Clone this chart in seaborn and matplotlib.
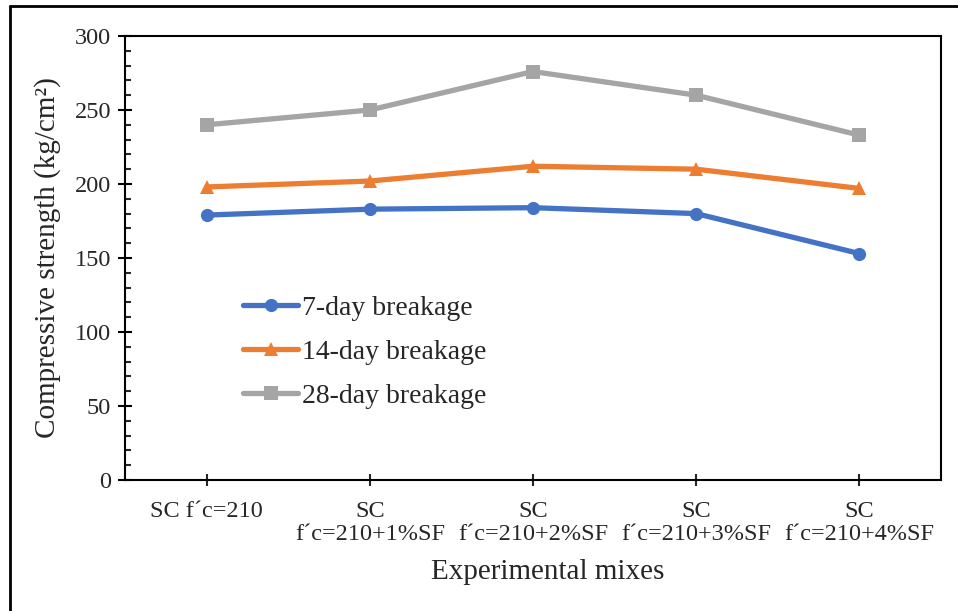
import matplotlib
matplotlib.use("Agg")
import matplotlib.pyplot as plt
from matplotlib.lines import Line2D
from matplotlib.ticker import MultipleLocator
import pandas as pd
import seaborn as sns

# Mix designs (x categories) and compressive strength per curing age
mixes = [
    "SC f\u00b4c=210",
    "SC\nf\u00b4c=210+1%SF",
    "SC\nf\u00b4c=210+2%SF",
    "SC\nf\u00b4c=210+3%SF",
    "SC\nf\u00b4c=210+4%SF",
]
day7 = [179, 183, 184, 180, 153]
day14 = [198, 202, 212, 210, 197]
day28 = [240, 250, 276, 260, 233]
series_names = ["7-day breakage", "14-day breakage", "28-day breakage"]

rows = []
for name, vals in zip(series_names, [day7, day14, day28]):
    for i, v in enumerate(vals):
        rows.append({"mix": i, "strength": v, "series": name})
df = pd.DataFrame(rows)

sns.set_theme(style="white")
plt.rcParams["font.family"] = ["Liberation Serif", "DejaVu Serif"]

colors = {"7-day breakage": "#4472C4", "14-day breakage": "#ED7D31", "28-day breakage": "#A5A5A5"}
markers = {"7-day breakage": "o", "14-day breakage": "^", "28-day breakage": "s"}

fig = plt.figure(figsize=(9.58, 6.11), dpi=100)
ax = fig.add_axes([125 / 958, 1 - 480 / 611, (941 - 125) / 958, (480 - 36) / 611])

sns.lineplot(data=df, x="mix", y="strength", hue="series", style="series",
             palette=colors, markers=markers, dashes=False, linewidth=3.8,
             markersize=9.5, markeredgewidth=0, ax=ax, legend=False)

ax.set_xlim(-0.5, len(mixes) - 0.5)
ax.set_ylim(0, 300)
ax.set_xticks(range(len(mixes)))
ax.set_xticklabels(mixes, fontsize=17.5, linespacing=1.15)
ax.yaxis.set_major_locator(MultipleLocator(50))
ax.yaxis.set_minor_locator(MultipleLocator(10))
ax.tick_params(axis="y", which="major", direction="inout", length=10, width=1.5,
               left=True, labelsize=17.5, pad=5, colors="black", labelcolor="#262626")
ax.tick_params(axis="y", which="minor", direction="in", length=4, width=1.5, left=True)
ax.tick_params(axis="x", which="major", direction="inout", length=8, width=1.5,
               bottom=True, labelsize=17.5, pad=11, labelcolor="#262626")

for sp in ax.spines.values():
    sp.set_visible(True)
    sp.set_color("black")
    sp.set_linewidth(1.5)

ax.set_xlabel("Experimental mixes", fontsize=21, color="#262626")
ax.xaxis.label.set_va("center")
ax.xaxis.set_label_coords(0.518, -0.207)
ax.set_ylabel("Compressive strength (kg/cm\u00b2)", fontsize=21, labelpad=10, color="#262626")

handles = [Line2D([], [], color=colors[n], marker=markers[n], linewidth=3.8,
                  markersize=9.5, markeredgewidth=0) for n in series_names]
ax.legend(handles, series_names, loc="center left", bbox_to_anchor=(0.131, 0.288),
          frameon=False, fontsize=20, handlelength=1.98, handletextpad=0.15,
          labelspacing=0.68, borderaxespad=0, labelcolor="#262626")

# Outer frame of the chart area
fig.add_artist(Line2D([10 / 958, 10 / 958], [0, 1 - 6 / 611], transform=fig.transFigure,
                      color="black", linewidth=2))
fig.add_artist(Line2D([10 / 958, 1], [1 - 6 / 611, 1 - 6 / 611], transform=fig.transFigure,
                      color="black", linewidth=2))

fig.savefig("out.png", dpi=100)
